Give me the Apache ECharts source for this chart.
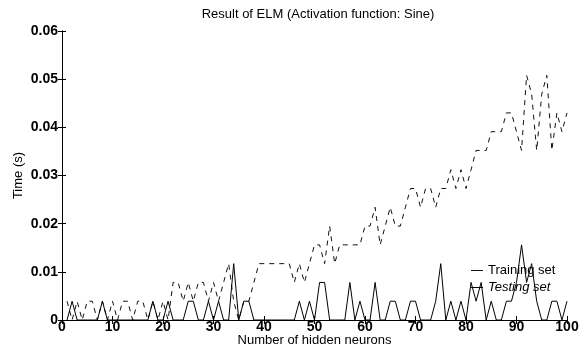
<!DOCTYPE html>
<html>
<head>
<meta charset="utf-8">
<script src="https://cdn.jsdelivr.net/npm/echarts@6/dist/echarts.min.js"></script>
<style>
  html, body { margin: 0; padding: 0; background: #fff; }
  #chart { width: 584px; height: 349px; }
</style>
</head>
<body>
<div id="chart"></div>
<script>
// Number of hidden neurons (x values)
const neurons = [];
for (let n = 1; n <= 100; n++) neurons.push(n);

// Training time (s) for each number of hidden neurons
const trainingTime = [
  0.0039, 0, 0.0039, 0, 0.0039, 0.0039, 0, 0.0039, 0, 0.0039,
  0, 0.0039, 0.0039, 0, 0.0039, 0.0039, 0, 0.0039, 0, 0.0039,
  0, 0.0078, 0.0078, 0.0039, 0.0078, 0.0039, 0.0078, 0.0078, 0.0039, 0.0078,
  0.0039, 0.0078, 0.0117, 0.0039, 0, 0.0039, 0.0039, 0.0078, 0.0117, 0.0117,
  0.0117, 0.0117, 0.0117, 0.0117, 0.0117, 0.0078, 0.0117, 0.0078, 0.0117, 0.0156,
  0.0156, 0.0117, 0.0195, 0.0117, 0.0156, 0.0156, 0.0156, 0.0156, 0.0156, 0.0195,
  0.0195, 0.0234, 0.0156, 0.0195, 0.0234, 0.0195, 0.0195, 0.0234, 0.0273, 0.0273,
  0.0234, 0.0273, 0.0273, 0.0234, 0.0273, 0.0273, 0.0312, 0.0273, 0.0312, 0.0273,
  0.0312, 0.0352, 0.0352, 0.0352, 0.0391, 0.0391, 0.0391, 0.043, 0.043, 0.0391,
  0.0352, 0.0508, 0.0469, 0.0352, 0.0469, 0.0508, 0.0352, 0.043, 0.0391, 0.043
];

// Testing time (s) for each number of hidden neurons
const testingTime = [
  0, 0.0039, 0, 0, 0, 0, 0, 0.0039, 0, 0,
  0, 0, 0, 0, 0, 0, 0, 0.0039, 0, 0,
  0.0039, 0, 0, 0, 0.0039, 0.0039, 0, 0, 0.0039, 0,
  0.0039, 0, 0, 0.0117, 0, 0.0039, 0.0039, 0, 0, 0,
  0, 0, 0, 0, 0, 0, 0.0039, 0, 0.0039, 0,
  0.0078, 0.0078, 0, 0, 0, 0, 0.0078, 0, 0.0039, 0,
  0, 0.0078, 0, 0, 0.0039, 0.0039, 0, 0, 0.0039, 0.0039,
  0, 0, 0, 0.0039, 0.0117, 0, 0.0039, 0, 0.0039, 0,
  0.0078, 0.0039, 0.0078, 0, 0.0039, 0, 0, 0.0039, 0.0039, 0.0078,
  0.0156, 0.0078, 0.0117, 0.0039, 0, 0, 0.0039, 0.0039, 0, 0.0039
];

const xTicks = [0, 10, 20, 30, 40, 50, 60, 70, 80, 90, 100];
const yTicks = [0, 0.01, 0.02, 0.03, 0.04, 0.05, 0.06];

const FONT = 'Liberation Sans, Arial, sans-serif';
const pairs = (ys) => neurons.map((x, i) => [x, ys[i]]);

const chart = echarts.init(document.getElementById('chart'), null, { renderer: 'canvas' });

const frameAxis = {
  axisLine: { show: true, lineStyle: { color: '#000', width: 1 } },
  axisTick: { show: true, inside: true, length: 4, lineStyle: { color: '#000' } },
  axisLabel: { show: false },
  splitLine: { show: false }
};

chart.setOption({
  animation: false,
  backgroundColor: '#fff',
  title: {
    text: 'Result of ELM (Activation function: Sine)',
    left: 313, top: 3, textAlign: 'center',
    textStyle: { fontFamily: FONT, fontSize: 13, fontWeight: 'normal', color: '#000' }
  },
  grid: { left: 62, right: 17, top: 31, bottom: 29, containLabel: false, outerBoundsMode: 'none' },
  legend: {
    orient: 'vertical', left: 466, top: 259, itemWidth: 12, itemHeight: 8, itemGap: 4,
    icon: 'path://M0,4L12,4L12,5L0,5Z',
    data: ['Training set', 'Testing set'],
    formatter: (name) => name === 'Testing set' ? '{i|' + name + '}' : name,
    textStyle: {
      fontFamily: FONT, fontSize: 13, color: '#000',
      rich: { i: { fontFamily: FONT, fontSize: 13, fontStyle: 'italic', color: '#000' } }
    }
  },
  xAxis: [
    {
      type: 'value', min: xTicks[0], max: xTicks[xTicks.length - 1], interval: 10,
      name: 'Number of hidden neurons', nameLocation: 'middle', nameGap: 14, nameMoveOverlap: false,
      nameTextStyle: { fontFamily: FONT, fontSize: 13, color: '#000' },
      axisLine: { show: true, lineStyle: { color: '#000', width: 1 } },
      axisTick: { show: true, inside: true, length: 4, lineStyle: { color: '#000' } },
      axisLabel: { fontFamily: FONT, fontSize: 14, fontWeight: 'bold', color: '#000', margin: 0 },
      splitLine: { show: false }
    },
    Object.assign({ type: 'value', position: 'top', min: 0, max: 100, interval: 10 }, frameAxis, {
      axisLine: { show: true, lineStyle: { color: '#000', width: 1, type: [10, 6] } }
    })
  ],
  yAxis: [
    {
      type: 'value', min: yTicks[0], max: yTicks[yTicks.length - 1], interval: 0.01,
      name: 'Time (s)', nameLocation: 'middle', nameGap: 37, nameRotate: 90, nameMoveOverlap: false,
      nameTextStyle: { fontFamily: FONT, fontSize: 13, color: '#000' },
      axisLine: { show: true, lineStyle: { color: '#000', width: 1 } },
      axisTick: { show: true, inside: true, length: 4, lineStyle: { color: '#000' } },
      axisLabel: {
        fontFamily: FONT, fontSize: 14, fontWeight: 'bold', color: '#000', margin: 4,
        formatter: (v) => v === 0 ? '0' : v.toFixed(2)
      },
      splitLine: { show: false }
    },
    Object.assign({ type: 'value', position: 'right', min: 0, max: 0.06, interval: 0.01 }, frameAxis)
  ],
  series: [
    {
      name: 'Training set', type: 'line', data: pairs(trainingTime),
      symbol: 'none', z: 3,
      lineStyle: { color: '#111', width: 1, type: [5, 5] },
      itemStyle: { color: '#111' }
    },
    {
      name: 'Testing set', type: 'line', data: pairs(testingTime),
      symbol: 'none', z: 4,
      lineStyle: { color: '#000', width: 1, type: 'solid' },
      itemStyle: { color: '#000' }
    }
  ]
});
</script>
</body>
</html>
